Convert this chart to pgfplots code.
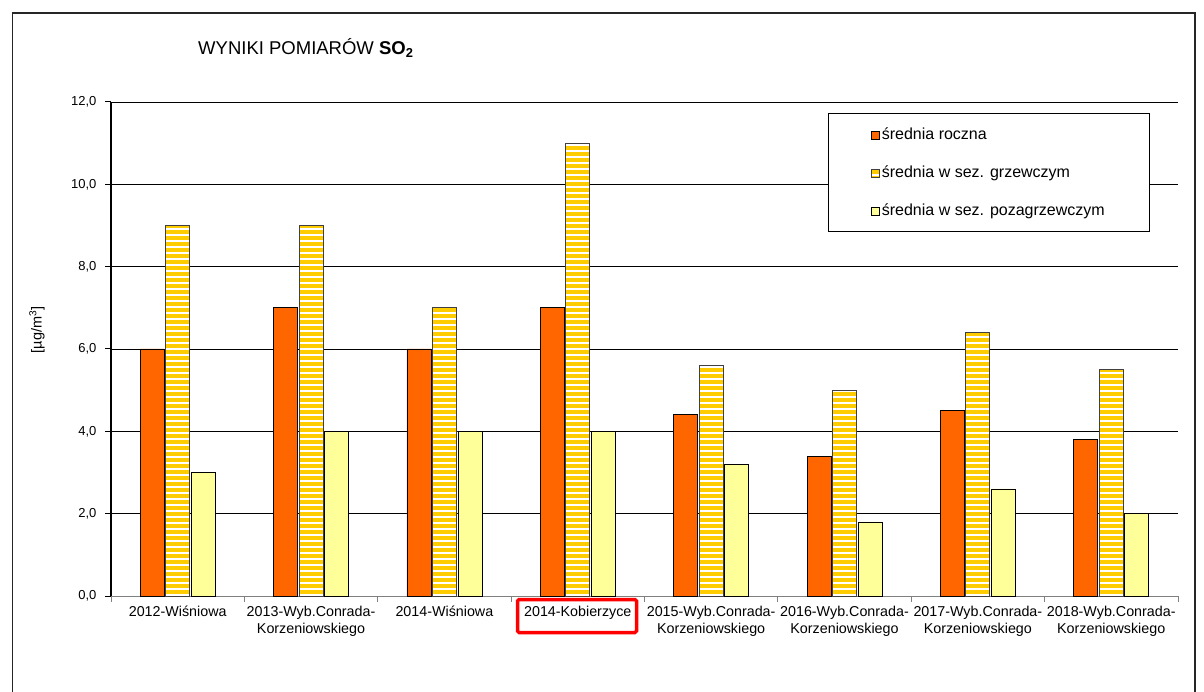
\documentclass[border=0pt]{standalone}
\usepackage{fontspec}
\setmainfont{Liberation Sans}
\usepackage{pgfplots}
\pgfplotsset{compat=1.18}
\usetikzlibrary{patterns.meta}
\definecolor{sorange}{HTML}{FF6600}
\definecolor{sgold}{HTML}{FFCC00}
\definecolor{syellow}{HTML}{FFFF99}
\begin{document}
\begin{tikzpicture}[x=1pt,y=1pt]
\useasboundingbox (0,0) rectangle (1204,691);
\begin{scope}
\clip (0,0) rectangle (1204,691);
\draw[line width=1.3pt, black!85] (12.5,-10) rectangle (1195,678);
\end{scope}
\node[anchor=west, inner sep=0pt, font=\fontsize{18.5}{21}\selectfont] at (198,643) {WYNIKI POMIARÓW \textbf{SO\textsubscript{2}}};
\node[rotate=90, font=\fontsize{14.5}{17}\selectfont] at (37,361) {[µg/m\textsuperscript{3}]};
\begin{axis}[
  at={(111pt,95pt)}, anchor=south west, scale only axis,
  width=1067pt, height=494pt,
  xmin=-0.5, xmax=7.5, ymin=0, ymax=12,
  axis lines=left,
  x axis line style={gray, -, line width=1pt},
  y axis line style={black, -, line width=1.2pt},
  ytick={0,2,...,12},
  xtick={-0.5,0.5,...,7.5},
  x tick label as interval,
  xticklabels={{2012-Wiśniowa},{2013-Wyb.Conrada-\\Korzeniowskiego},{2014-Wiśniowa},{2014-Kobierzyce},{2015-Wyb.Conrada-\\Korzeniowskiego},{2016-Wyb.Conrada-\\Korzeniowskiego},{2017-Wyb.Conrada-\\Korzeniowskiego},{2018-Wyb.Conrada-\\Korzeniowskiego}},
  xticklabel style={align=center, font=\fontsize{14.3}{17.5}\selectfont, yshift=-0.5pt},
  yticklabel style={font=\fontsize{13}{15}\selectfont, xshift=-5pt, /pgf/number format/.cd, fixed, fixed zerofill, precision=1, use comma, assume math mode=true},
  tick align=outside,
  major tick length=6pt,
  xtick style={gray, line width=0.8pt},
  ytick style={black, line width=1pt},
  ymajorgrids,
  major grid style={black, line width=0.9pt},
  ybar=1.5pt, bar width=24pt,
  legend cell align=left,
  legend image code/.code={\draw[#1] (0pt,-5pt) rectangle (8pt,3pt);},
  legend style={at={(0.672,0.978)}, anchor=north west, draw=black, line width=1.2pt,
    font=\fontsize{16}{18}\selectfont, inner xsep=42pt, inner ysep=13.5pt,
    /tikz/row sep=22.5pt, nodes={inner xsep=2.5pt, inner ysep=1pt}},
]
\addplot[fill=sorange, draw=black, line width=0.8pt] coordinates {(0,6) (1,7) (2,6) (3,7) (4,4.4) (5,3.4) (6,4.5) (7,3.8)};
\addlegendentry{średnia roczna}
\addplot[preaction={fill=sgold}, pattern={Lines[angle=0,distance=6pt,line width=2.6pt]}, pattern color=white, draw=black!75, line width=0.8pt] coordinates {(0,9) (1,9) (2,7) (3,11) (4,5.6) (5,5) (6,6.4) (7,5.5)};
\addlegendentry{średnia w sez. grzewczym}
\addplot[fill=syellow, draw=black, line width=0.8pt] coordinates {(0,3) (1,4) (2,4) (3,4) (4,3.2) (5,1.8) (6,2.6) (7,2)};
\addlegendentry{średnia w sez. pozagrzewczym}
\end{axis}
\draw[red, line width=3.5pt, rounded corners=1.5pt] (517.5,91.5) rectangle (636.5,58.5);
\end{tikzpicture}
\end{document}
